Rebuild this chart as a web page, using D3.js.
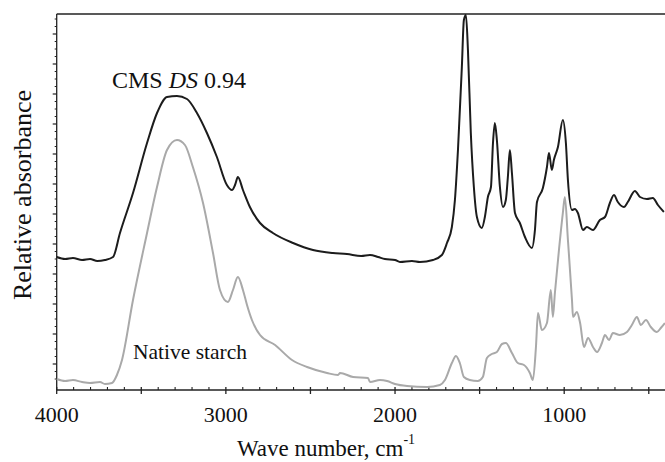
<!DOCTYPE html>
<html>
<head>
<meta charset="utf-8">
<script src="https://cdn.jsdelivr.net/npm/d3@7"></script>
<style>
  html, body { margin: 0; padding: 0; background: #fff; }
  svg { display: block; }
</style>
</head>
<body>
<svg id="chart" width="665" height="462"></svg>
<script>
// FTIR spectra: carboxymethyl starch (CMS, DS 0.94) vs native starch
const cmsWave = [4000, 3950, 3904, 3850, 3803, 3760, 3715, 3667, 3626, 3549, 3466, 3407, 3348, 3289, 3230, 3171, 3112, 3053, 2994, 2964, 2946, 2929, 2899, 2858, 2798, 2722, 2603, 2485, 2367, 2284, 2200, 2148, 2100, 2060, 2000, 1971, 1900, 1853, 1776, 1723, 1693, 1664, 1646, 1628, 1605, 1593, 1581, 1569, 1552, 1534, 1516, 1487, 1469, 1451, 1433, 1421, 1410, 1398, 1380, 1362, 1345, 1333, 1321, 1309, 1291, 1262, 1232, 1191, 1173, 1161, 1126, 1102, 1090, 1073, 1061, 1037, 1008, 990, 978, 954, 937, 919, 889, 866, 830, 789, 759, 730, 706, 683, 647, 624, 582, 552, 511, 476, 446, 411];
const cmsAbs  = [1.33, 1.31, 1.32, 1.30, 1.31, 1.29, 1.30, 1.33, 1.57, 1.97, 2.47, 2.77, 2.93, 2.94, 2.91, 2.77, 2.57, 2.33, 2.05, 2.00, 2.05, 2.13, 2.00, 1.83, 1.67, 1.57, 1.47, 1.40, 1.37, 1.36, 1.34, 1.35, 1.33, 1.31, 1.30, 1.28, 1.29, 1.28, 1.30, 1.35, 1.47, 1.63, 1.90, 2.40, 3.23, 3.70, 3.75, 3.40, 2.57, 2.03, 1.73, 1.62, 1.73, 1.93, 2.03, 2.47, 2.67, 2.50, 2.03, 1.83, 1.90, 2.13, 2.40, 2.17, 1.77, 1.67, 1.53, 1.42, 1.60, 1.88, 2.02, 2.23, 2.37, 2.20, 2.30, 2.43, 2.70, 2.47, 2.10, 1.80, 1.81, 1.77, 1.60, 1.63, 1.60, 1.70, 1.73, 1.87, 1.95, 1.88, 1.83, 1.88, 1.99, 1.93, 1.91, 1.92, 1.85, 1.78];

const starchWave = [4000, 3950, 3904, 3850, 3803, 3744, 3715, 3673, 3644, 3614, 3549, 3466, 3407, 3348, 3289, 3242, 3195, 3135, 3076, 3035, 2988, 2958, 2929, 2899, 2875, 2846, 2798, 2709, 2609, 2520, 2402, 2337, 2325, 2248, 2160, 2148, 2089, 2047, 2000, 1929, 1811, 1735, 1705, 1664, 1640, 1617, 1593, 1558, 1511, 1481, 1457, 1428, 1398, 1368, 1345, 1309, 1274, 1238, 1203, 1185, 1167, 1155, 1132, 1102, 1079, 1067, 1055, 1031, 1008, 996, 978, 954, 948, 925, 906, 883, 859, 830, 806, 777, 759, 735, 712, 671, 629, 600, 570, 547, 517, 488, 452, 429, 405];
const starchAbs  = [0.11, 0.09, 0.10, 0.08, 0.07, 0.08, 0.06, 0.07, 0.15, 0.30, 0.90, 1.57, 2.03, 2.40, 2.50, 2.45, 2.23, 1.87, 1.37, 1.00, 0.88, 1.00, 1.13, 1.00, 0.85, 0.70, 0.55, 0.45, 0.30, 0.23, 0.17, 0.15, 0.17, 0.13, 0.12, 0.08, 0.10, 0.09, 0.06, 0.04, 0.03, 0.05, 0.10, 0.27, 0.34, 0.27, 0.13, 0.10, 0.09, 0.13, 0.32, 0.36, 0.38, 0.46, 0.47, 0.37, 0.27, 0.25, 0.17, 0.10, 0.43, 0.77, 0.60, 0.67, 1.00, 0.73, 0.97, 1.40, 1.77, 1.93, 1.50, 0.90, 0.73, 0.78, 0.67, 0.43, 0.52, 0.43, 0.38, 0.47, 0.55, 0.50, 0.57, 0.55, 0.58, 0.65, 0.73, 0.65, 0.70, 0.63, 0.58, 0.62, 0.67];

const xLabelTicks = [4000, 3000, 2000, 1000];
const xMajorTicks = [4000, 3500, 3000, 2500, 2000, 1500, 1000, 500];

const FONT = '"Liberation Serif", "Times New Roman", serif';

const svg = d3.select("#chart");
const mLeft = 56.7, mRight = 665.7, mTop = 14, mBottom = 390;

const x = d3.scaleLinear().domain([4000, 400]).range([mLeft, mRight]);
const y = d3.scaleLinear().domain([0, 3.76]).range([mBottom, mTop]);

function label(sel, size) {
  return sel.style("font-family", FONT).style("font-size", size + "px").attr("fill", "#111");
}

// frame: top border and left spine
svg.append("line").attr("x1", mLeft).attr("x2", 665).attr("y1", mTop).attr("y2", mTop)
  .attr("stroke", "#222").attr("stroke-width", 1.3);
svg.append("line").attr("x1", mLeft).attr("x2", mLeft).attr("y1", mTop).attr("y2", mBottom)
  .attr("stroke", "#222").attr("stroke-width", 1.3);

// x axis: minor ticks every 100 cm-1 inside, majors every 500 crossing the line
const xAxis = svg.append("g");
xAxis.append("line").attr("x1", mLeft).attr("x2", 665).attr("y1", mBottom).attr("y2", mBottom)
  .attr("stroke", "#222").attr("stroke-width", 1.3);
const minorX = d3.range(3900, 400, -100).filter(v => v % 500 !== 0);
xAxis.selectAll(".mx").data(minorX).join("line")
  .attr("x1", d => x(d)).attr("x2", d => x(d))
  .attr("y1", mBottom - 3).attr("y2", mBottom)
  .attr("stroke", "#222").attr("stroke-width", 1.1);
xAxis.selectAll(".Mx").data(xMajorTicks).join("line")
  .attr("x1", d => x(d)).attr("x2", d => x(d))
  .attr("y1", mBottom - 3).attr("y2", mBottom + 4)
  .attr("stroke", "#222").attr("stroke-width", 1.3);
label(xAxis.selectAll(".lx").data(xLabelTicks).join("text"), 22)
  .attr("x", d => x(d)).attr("y", 422)
  .attr("text-anchor", "middle")
  .text(d => d);

// y axis ticks (outward, no labels)
const yMajor = d3.range(0.26, 3.76, 0.3);
const yMinor = d3.range(0.11, 3.76, 0.075).filter(v => !yMajor.some(m => Math.abs(m - v) < 0.01));
svg.selectAll(".my").data(yMinor).join("line")
  .attr("x1", mLeft - 2).attr("x2", mLeft)
  .attr("y1", d => y(d)).attr("y2", d => y(d))
  .attr("stroke", "#222").attr("stroke-width", 1);
svg.selectAll(".My").data(yMajor).join("line")
  .attr("x1", mLeft - 4).attr("x2", mLeft)
  .attr("y1", d => y(d)).attr("y2", d => y(d))
  .attr("stroke", "#222").attr("stroke-width", 1.2);

// spectra
const line = d3.line().x(d => x(d[0])).y(d => y(d[1])).curve(d3.curveMonotoneX);
const plot = svg.append("g");
plot.append("path")
  .datum(d3.zip(starchWave, starchAbs).sort((a, b) => a[0] - b[0]))
  .attr("d", line).attr("fill", "none")
  .attr("stroke", "#a9a9a9").attr("stroke-width", 2);
plot.append("path")
  .datum(d3.zip(cmsWave, cmsAbs).sort((a, b) => a[0] - b[0]))
  .attr("d", line).attr("fill", "none")
  .attr("stroke", "#1c1c1c").attr("stroke-width", 2);

// curve labels
const cmsLabel = label(svg.append("text"), 24).attr("x", 112).attr("y", 88);
cmsLabel.append("tspan").text("CMS ");
cmsLabel.append("tspan").style("font-style", "italic").text("DS");
cmsLabel.append("tspan").text(" 0.94");

label(svg.append("text"), 21.5).attr("x", 133).attr("y", 359).text("Native starch");

// axis titles
const xt = label(svg.append("text"), 23).attr("x", 326).attr("y", 456)
  .attr("text-anchor", "middle");
xt.append("tspan").text("Wave number, cm");
xt.append("tspan").style("font-size", "14px").attr("dy", -12).text("-1");

label(svg.append("text"), 26)
  .attr("transform", "translate(31,195) rotate(-90)")
  .attr("text-anchor", "middle")
  .text("Relative absorbance");
</script>
</body>
</html>
